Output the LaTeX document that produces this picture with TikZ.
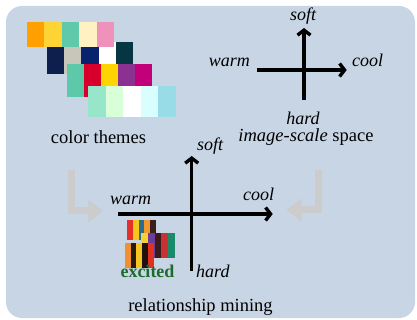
\documentclass[tikz,border=0pt]{standalone}
\usepackage{fontspec}
\setmainfont{Liberation Serif}
\usetikzlibrary{arrows.meta}

% one row of colour swatches: x, y, swatch width, height, colours
\newcommand{\themerow}[5]{%
  \foreach \hex [count=\k from 0] in {#5} {%
    \definecolor{swatchcol}{HTML}{\hex}%
    \fill[swatchcol] ({#1+\k*#3},#2) rectangle ({#1+(\k+1)*#3},{#2+#4});
  }%
}

\begin{document}
\begin{tikzpicture}[x=1pt, y=-1pt]
        \definecolor{panelblue}{RGB}{200,213,229}
        \definecolor{bentgrey}{RGB}{204,204,204}
        \definecolor{excitedgreen}{RGB}{30,108,44}
        \tikzset{
          caption/.style={font=\fontsize{18.5}{21}\selectfont, inner sep=0pt},
          axislabel/.style={font=\fontsize{18}{20}\selectfont\itshape, inner sep=0pt},
          axis/.style={line width=3.4pt, -{Straight Barb[length=5pt, width=13pt]}},
          bentarrow/.style={bentgrey, line width=7pt, -{Triangle[length=15pt, width=22pt]}}
        }
        \useasboundingbox (0,0) rectangle (417,320);

        % Panel
        \fill[panelblue, rounded corners=16pt] (6,6) rectangle (415,318);

        % Colour themes
        \themerow{47}{41.7}{17.2}{32.6}{0E1E4D,C8C6BA,08226E,FFFFFF,063642}
        \themerow{26.7}{22.3}{17.5}{24.4}{FF9F00,FDD433,5FC9A9,FFF1C1,EE92BC}
        \themerow{66.7}{64}{17}{32.7}{5DC9A9,D7002B,FED500,8A3191,C1007A}
        \themerow{88.3}{85.7}{17.5}{31.6}{98E6C9,D9FFD8,FFFFFF,D9FEFF,98DCE7}
        \node[caption, anchor=base] (themes) at (98.5,144) {color themes};

        % image-scale space
        \coordinate (tw) at (256.7,70);
        \coordinate (te) at (346.7,70);
        \coordinate (ts) at (304,100);
        \coordinate (tn) at (304,28);
        \draw[axis] (tw) -- (te);
        \draw[axis] (ts) -- (tn);
        \node[axislabel, anchor=base] (tsoft) at (303,21) {soft};
        \node[axislabel, anchor=base east] (twarm) at (250,67) {warm};
        \node[axislabel, anchor=base west] (tcool) at (352,67) {cool};
        \node[axislabel, anchor=base] (thard) at (303,125) {hard};
        \node[caption, anchor=base] (space) at (306,142) {\textit{image-scale} space};

        % Bent arrows
        \coordinate (ltop) at (71.5,170);
        \coordinate (ltip) at (103,211);
        \coordinate (rtop) at (318.5,170);
        \coordinate (rtip) at (286.5,210);
        \draw[bentarrow] (ltop) |- (ltip);
        \draw[bentarrow] (rtop) |- (rtip);

        % Relationship mining
        \coordinate (bw) at (118.3,214);
        \coordinate (be) at (272.7,214);
        \coordinate (bs) at (191.7,270.7);
        \coordinate (bn) at (191.7,156);
        \draw[axis] (bw) -- (be);
        \draw[axis] (bs) -- (bn);
        \node[axislabel, anchor=base west] (bsoft) at (197,151) {soft};
        \node[axislabel, anchor=base west] (bwarm) at (110,205) {warm};
        \node[axislabel, anchor=base west] (bcool) at (243,201) {cool};
        \node[axislabel, anchor=base west] (bhard) at (196,277) {hard};

        % Excited theme
        \themerow{126.7}{220}{5.9}{20}{E5302A,F6C81C,2B6D8F,F09A2E,3A1F1E}
        \themerow{140.7}{233}{6.9}{25}{F5D034,6B3B99,3A1A1A,C83232,1B8A6B}
        \themerow{125}{243}{5.7}{25}{F09030,2A1A10,F5C520,201010,E03020}
        \node[caption, font=\fontsize{18}{20}\selectfont\bfseries, text=excitedgreen, anchor=base] (excited) at (147.5,277) {excited};
        \node[caption, anchor=base] (mining) at (200.5,311) {relationship mining};
    \end{tikzpicture}
\end{document}
